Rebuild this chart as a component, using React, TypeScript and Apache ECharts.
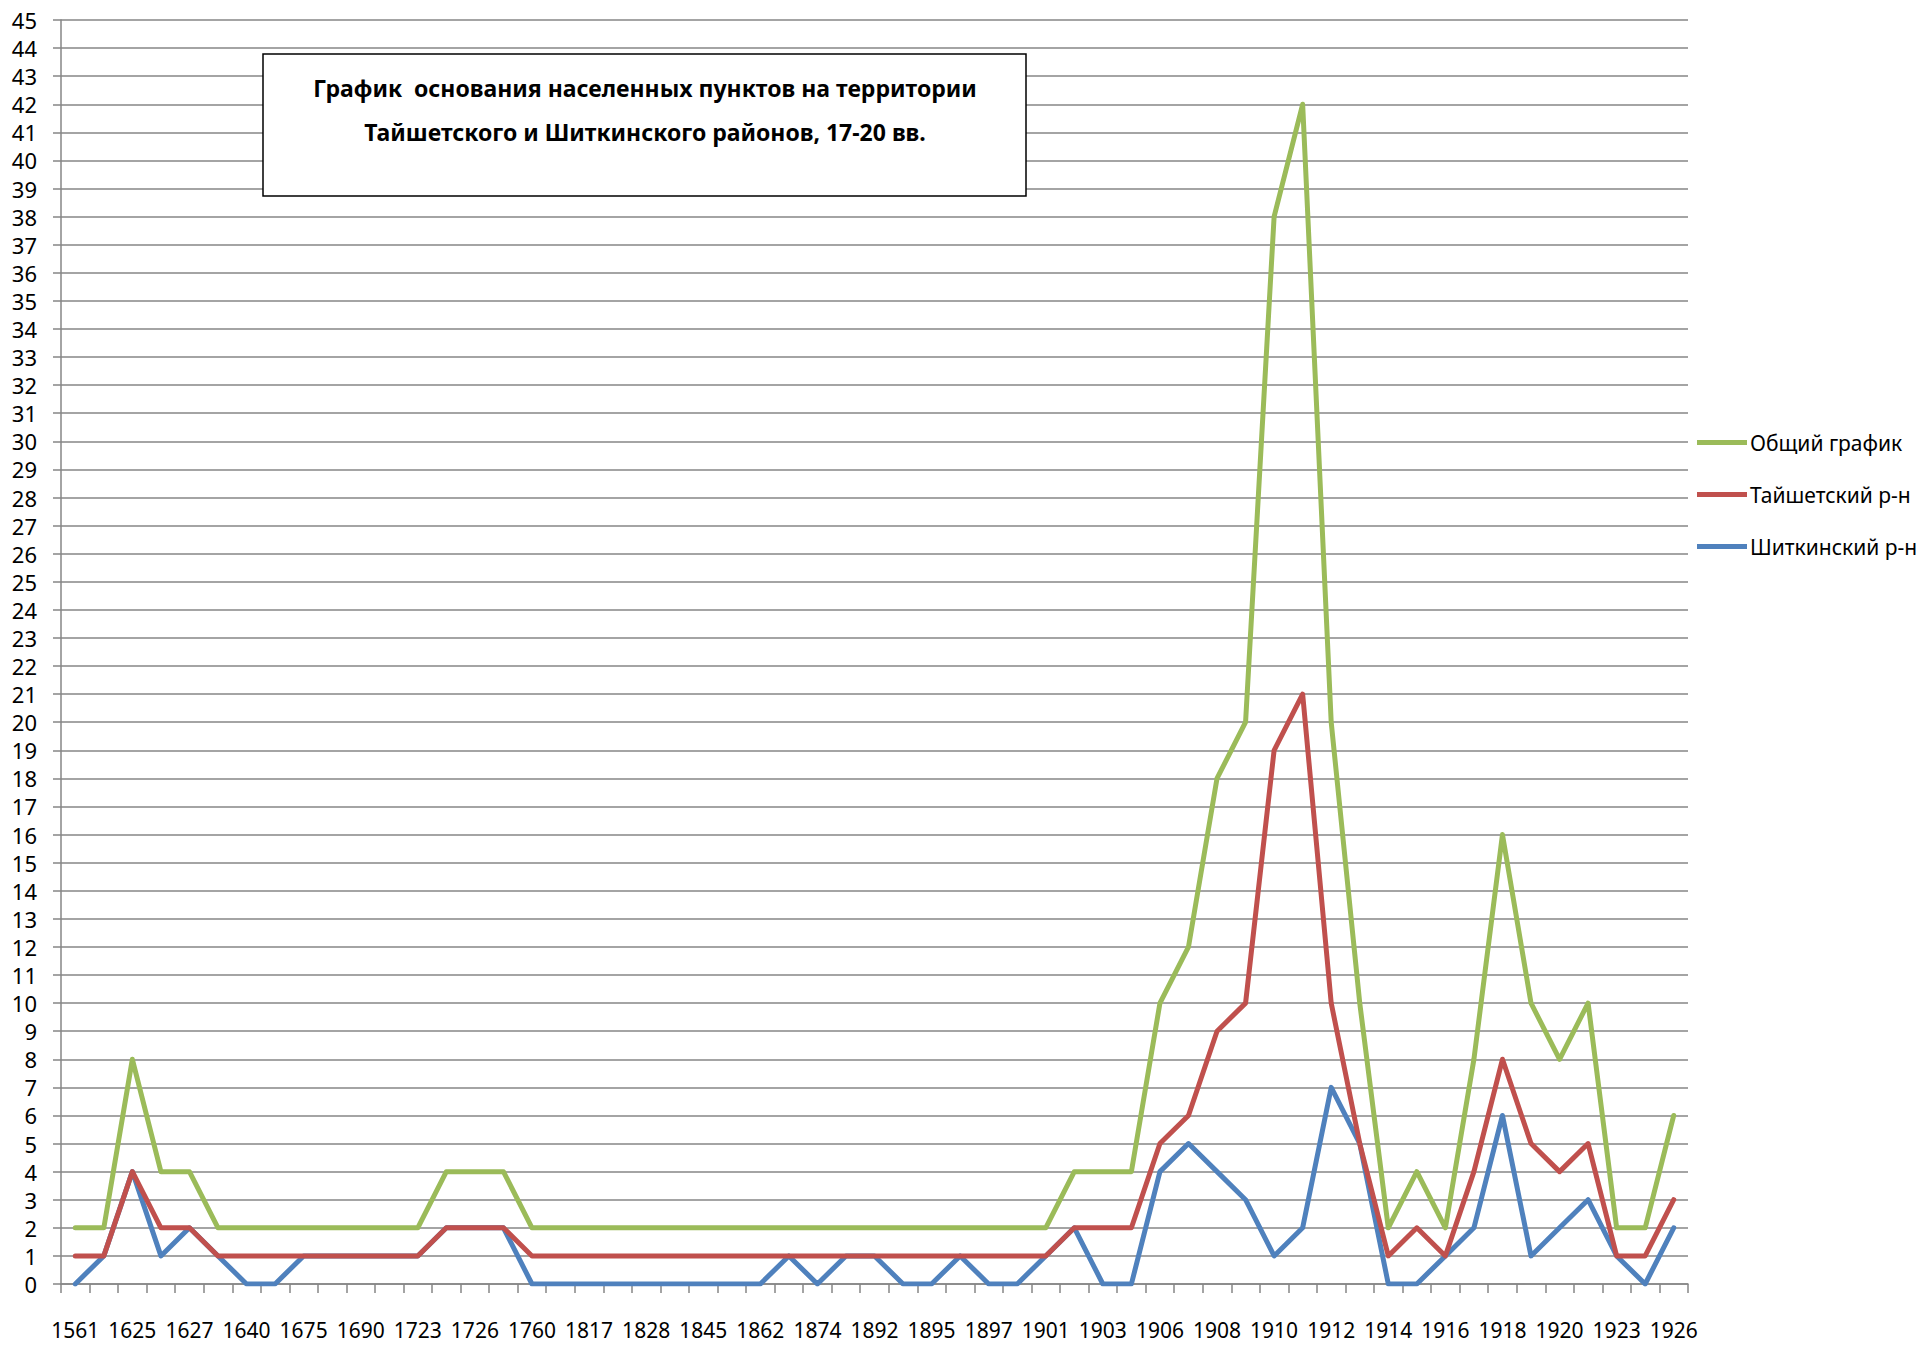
import React, { useEffect, useRef } from "react";
import * as echarts from "echarts";

const categories = [
  "1561", "1600", "1625", "1626", "1627", "1630", "1640", "1650", "1675", "1680",
  "1690", "1700", "1723", "1725", "1726", "1750", "1760", "1800", "1817", "1820",
  "1828", "1840", "1845", "1850", "1862", "1870", "1874", "1880", "1892", "1894",
  "1895", "1896", "1897", "1900", "1901", "1902", "1903", "1905", "1906", "1907",
  "1908", "1909", "1910", "1911", "1912", "1913", "1914", "1915", "1916", "1917",
  "1918", "1919", "1920", "1921", "1923", "1925", "1926",
];

const totalSeries = [
  2, 2, 8, 4, 4, 2, 2, 2, 2, 2,
  2, 2, 2, 4, 4, 4, 2, 2, 2, 2,
  2, 2, 2, 2, 2, 2, 2, 2, 2, 2,
  2, 2, 2, 2, 2, 4, 4, 4, 10, 12,
  18, 20, 38, 42, 20, 10, 2, 4, 2, 8,
  16, 10, 8, 10, 2, 2, 6,
];

const taishetSeries = [
  1, 1, 4, 2, 2, 1, 1, 1, 1, 1,
  1, 1, 1, 2, 2, 2, 1, 1, 1, 1,
  1, 1, 1, 1, 1, 1, 1, 1, 1, 1,
  1, 1, 1, 1, 1, 2, 2, 2, 5, 6,
  9, 10, 19, 21, 10, 5, 1, 2, 1, 4,
  8, 5, 4, 5, 1, 1, 3,
];

const shitkinoSeries = [
  0, 1, 4, 1, 2, 1, 0, 0, 1, 1,
  1, 1, 1, 2, 2, 2, 0, 0, 0, 0,
  0, 0, 0, 0, 0, 1, 0, 1, 1, 0,
  0, 1, 0, 0, 1, 2, 0, 0, 4, 5,
  4, 3, 1, 2, 7, 5, 0, 0, 1, 2,
  6, 1, 2, 3, 1, 0, 2,
];

const seriesNames = ["Общий график", "Тайшетский р-н", "Шиткинский р-н"];
const titleLines = [
  "График  основания населенных пунктов на территории",
  "Тайшетского и Шиткинского районов, 17-20 вв.",
];

const FONT = '"Noto Sans", "Open Sans", sans-serif';
const GRID_GRAY = "#868686";

export default function App() {
  const ref = useRef<HTMLDivElement>(null);

  useEffect(() => {
    if (!ref.current) return;
    const chart = echarts.init(ref.current, undefined, { renderer: "svg" });
    const lineSeries = (name: string, data: number[], color: string, z: number) => ({
      name,
      type: "line",
      data,
      z,
      showSymbol: false,
      symbol: "none",
      lineStyle: { color, width: 5, join: "round", cap: "round" },
      itemStyle: { color },
    });
    chart.setOption({
      animation: false,
      backgroundColor: "#ffffff",
      textStyle: { fontFamily: FONT },
      grid: { left: 61, right: 232, top: 20, bottom: 63, containLabel: false },
      legend: {
        orient: "vertical",
        left: 1697,
        top: 432,
        padding: 0,
        itemWidth: 50,
        itemHeight: 5,
        itemGap: 31,
        icon: "rect",
        data: seriesNames,
        textStyle: { fontSize: 21, color: "#000", fontFamily: FONT, padding: [0, 0, 0, -2] },
      },
      xAxis: {
        type: "category",
        data: categories,
        boundaryGap: true,
        axisLine: { show: true, lineStyle: { color: GRID_GRAY, width: 1.5 } },
        axisTick: { show: true, interval: 0, length: 9, lineStyle: { color: GRID_GRAY, width: 1.5 } },
        axisLabel: { interval: 1, margin: 35, fontSize: 21, color: "#000", fontFamily: FONT },
        splitLine: { show: false },
      },
      yAxis: {
        type: "value",
        min: 0,
        max: 45,
        interval: 1,
        axisLine: { show: true, lineStyle: { color: GRID_GRAY, width: 1.5 } },
        axisTick: { show: true, length: 8, lineStyle: { color: GRID_GRAY, width: 1.5 } },
        axisLabel: { margin: 24, fontSize: 22, color: "#000", fontFamily: FONT },
        splitLine: { show: true, lineStyle: { color: GRID_GRAY, width: 1.5 } },
      },
      series: [
        lineSeries(seriesNames[0], totalSeries, "#9BBB59", 4),
        lineSeries(seriesNames[1], taishetSeries, "#C0504D", 3),
        lineSeries(seriesNames[2], shitkinoSeries, "#4F81BD", 2),
      ],
      graphic: [
        {
          type: "rect",
          z: 100,
          shape: { x: 263, y: 54, width: 763, height: 142 },
          style: { fill: "#ffffff", stroke: "#000000", lineWidth: 1.5 },
        },
        {
          type: "text",
          z: 101,
          x: 645,
          y: 88,
          style: {
            text: titleLines[0],
            align: "center",
            verticalAlign: "middle",
            font: `bold 23px ${FONT}`,
            fill: "#000",
          },
        },
        {
          type: "text",
          z: 101,
          x: 645,
          y: 132,
          style: {
            text: titleLines[1],
            align: "center",
            verticalAlign: "middle",
            font: `bold 23px ${FONT}`,
            fill: "#000",
          },
        },
      ],
    });
    return () => chart.dispose();
  }, []);

  return (
    <div
      ref={ref}
      style={{ position: "fixed", left: 0, top: 0, width: 1920, height: 1347 }}
    />
  );
}
